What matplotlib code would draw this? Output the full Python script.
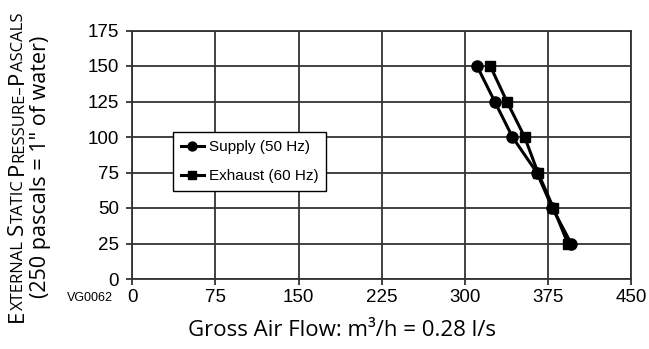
import matplotlib.pyplot as plt

# Fan curves: external static pressure (Pa) against gross air flow (m3/h)
pressure = [150, 125, 100, 75, 50, 25]
supply_flow = [311, 327, 343, 365, 379, 396]
exhaust_flow = [323, 338, 354, 366, 380, 393]
x_ticks = [0, 75, 150, 225, 300, 375, 450]
y_ticks = [0, 25, 50, 75, 100, 125, 150, 175]
series_labels = ['Supply (50 Hz)', 'Exhaust (60 Hz)']

W, H = 649, 349
fig = plt.figure(figsize=(W / 100, H / 100), dpi=100)
ax = fig.add_axes([132.3 / W, (H - 279) / H, 498.7 / W, 248.5 / H])

tick_font = 'Liberation Sans'
label_font = 'Open Sans'
grid_col = '#333333'

ax.plot(supply_flow, pressure, color='black', lw=2.2, marker='o', ms=8,
        label=series_labels[0], zorder=3)
ax.plot(exhaust_flow, pressure, color='black', lw=2.2, marker='s', ms=7.5,
        label=series_labels[1], zorder=3)

ax.set_xlim(0, 450)
ax.set_ylim(0, 175)
ax.set_xticks(x_ticks)
ax.set_yticks(y_ticks)
ax.grid(True, color=grid_col, lw=1.3)
ax.set_axisbelow(True)
for sp in ax.spines.values():
    sp.set_color(grid_col)
    sp.set_linewidth(1.3)
ax.tick_params(length=4.5, width=1.3, color=grid_col, labelsize=13.5)
ax.tick_params(axis='x', pad=3)
ax.tick_params(axis='y', pad=5)
for lbl in ax.get_xticklabels() + ax.get_yticklabels():
    lbl.set_family(tick_font)

leg = ax.legend(loc='upper left', bbox_to_anchor=(0.082, 0.59), borderaxespad=0,
                prop={'family': tick_font, 'size': 11}, fancybox=False,
                edgecolor='black', framealpha=1, handlelength=1.5,
                handletextpad=0.35, borderpad=0.5, labelspacing=1.0,
                markerscale=0.8)
leg.get_frame().set_linewidth(1.0)

# x label and drawing code
fig.text(342 / W, 1 - 331 / H, 'Gross Air Flow: m³/h = 0.28 l/s',
         family=label_font, fontsize=16, ha='center', va='center')
fig.text(113 / W, 1 - 298 / H, 'VG0062', family=tick_font, fontsize=9,
         ha='right', va='center')

# rotated y label, first line set in small caps
renderer = fig.canvas.get_renderer()


def text_width(s, size):
    t = fig.text(0, 0, s, fontsize=size, family=label_font)
    w = t.get_window_extent(renderer).width
    t.remove()
    return w


def vertical_line(parts, base_x, center_y, big, small):
    space = text_width('a a', small) - text_width('aa', small)
    widths = []
    for s, is_big in parts:
        if s == ' ':
            widths.append(space)
        else:
            widths.append(text_width(s, big if is_big else small))
    y = (H - center_y) - sum(widths) / 2
    for (s, is_big), w in zip(parts, widths):
        if s != ' ':
            fig.text(base_x / W, y / H, s, rotation=90, rotation_mode='anchor',
                     ha='left', va='baseline', family=label_font,
                     fontsize=big if is_big else small)
        y += w


title_parts = [('E', True), ('XTERNAL', False), (' ', False),
               ('S', True), ('TATIC', False), (' ', False),
               ('P', True), ('RESSURE–', False), ('P', True), ('ASCALS', False)]
vertical_line(title_parts, 23, 167, 16, 12)
fig.text(51 / W, 1 - 167 / H, '(250 pascals = 1" of water)', rotation=90,
         family=label_font, fontsize=15.5, ha='right', va='center',
         rotation_mode='default')

fig.savefig('out.png', dpi=100)
